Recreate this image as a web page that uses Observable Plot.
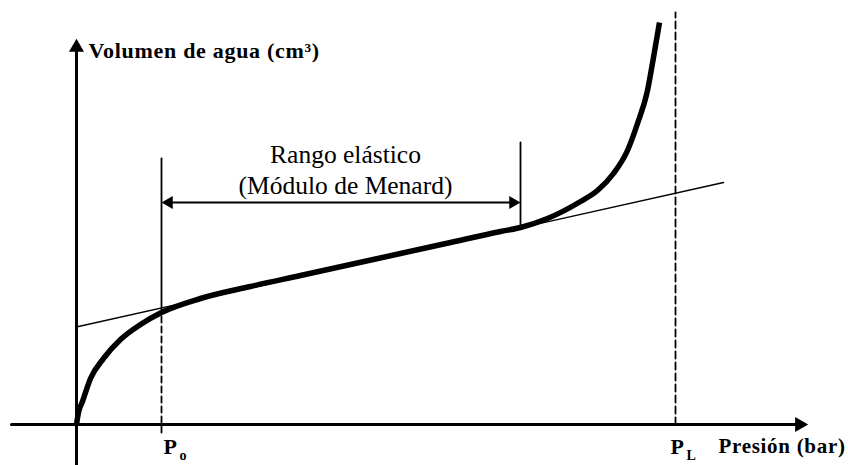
<!DOCTYPE html>
<html>
<head>
<meta charset="utf-8">
<script src="https://cdn.jsdelivr.net/npm/d3@7"></script>
<script src="https://cdn.jsdelivr.net/npm/@observablehq/plot@0.6"></script>
<style>
  html, body { margin: 0; padding: 0; background: #fff; }
  #chart svg { display: block; }
</style>
</head>
<body>
<div id="chart"></div>
<script>
// Schematic pressuremeter curve (arbitrary units: pressure, water volume)
const curvePressure = [0, 2, 6, 14, 27, 44, 64, 85, 124, 174, 224, 274, 324, 374, 424, 444, 471, 504, 521, 537, 551, 561, 571, 577, 583];
const curveVolume   = [0, 12, 23, 46, 66, 85, 100, 112, 126, 138, 149, 160, 171, 182, 193, 197, 206, 223, 234, 251, 274, 301, 334, 367, 402];

const tangentPressure = [2, 647];
const tangentVolume   = [98, 242];

const p0 = 85;          // P0
const pEnd = 444;       // end of elastic range
const pL = 599;         // PL
const p0CurveV = 112;   // volume where P0 meets curve
const p0TopV = 266;
const pEndTopV = 282;
const pEndBottomV = 197;
const pLTopV = 412;
const rangeArrowV = 222;
const axisXMin = -65, axisXMax = 732;
const axisYMin = -41, axisYMax = 386;

const yAxisLabel = "Volumen de agua (cm³)";
const xAxisLabel = "Presión (bar)";
const rangeLabels = ["Rango elástico", "(Módulo de Menard)"];
const rangeLabelV = [262, 231];
const pLabels = [{p: 87, main: "P", sub: "o"}, {p: 594, main: "P", sub: "L"}];

const curve = curvePressure.map((p, i) => ({p, v: curveVolume[i]}));
const tangent = tangentPressure.map((p, i) => ({p, v: tangentVolume[i]}));

const serif = "Liberation Serif";

const chart = Plot.plot({
  width: 848,
  height: 465,
  margin: 0,
  x: {domain: [-76, 772], range: [0, 848], axis: null},
  y: {domain: [-41, 424], range: [465, 0], axis: null},
  style: {fontFamily: serif, background: "#fff"},
  marks: [
    // axes
    Plot.line([{p: axisXMin, v: 0}, {p: axisXMax - 10, v: 0}], {x: "p", y: "v", stroke: "black", strokeWidth: 3}),
    Plot.line([{p: 0, v: axisYMin}, {p: 0, v: axisYMax - 10}], {x: "p", y: "v", stroke: "black", strokeWidth: 3}),
    Plot.dot([{p: axisXMax, v: 0}], {x: "p", y: "v", symbol: "triangle", rotate: 90, r: 5.6, dx: -9, fill: "black", stroke: "none"}),
    Plot.dot([{p: 0, v: axisYMax}], {x: "p", y: "v", symbol: "triangle", rotate: 0, r: 5.6, dy: 9, fill: "black", stroke: "none"}),
    // tangent line
    Plot.line(tangent, {x: "p", y: "v", stroke: "black", strokeWidth: 1.4}),
    // P0 vertical (solid above curve, dashed below)
    Plot.line([{p: p0, v: p0CurveV}, {p: p0, v: p0TopV}], {x: "p", y: "v", stroke: "black", strokeWidth: 1.8}),
    Plot.line([{p: p0, v: -8}, {p: p0, v: p0CurveV}], {x: "p", y: "v", stroke: "black", strokeWidth: 1.8, strokeDasharray: "6,4"}),
    // end of elastic range marker
    Plot.line([{p: pEnd, v: pEndBottomV}, {p: pEnd, v: pEndTopV}], {x: "p", y: "v", stroke: "black", strokeWidth: 1.8}),
    // PL dashed
    Plot.line([{p: pL, v: 0}, {p: pL, v: pLTopV}], {x: "p", y: "v", stroke: "black", strokeWidth: 1.8, strokeDasharray: "7,4"}),
    // double arrow
    Plot.line([{p: p0 + 6, v: rangeArrowV}, {p: pEnd - 6, v: rangeArrowV}], {x: "p", y: "v", stroke: "black", strokeWidth: 2}),
    Plot.dot([{p: p0, v: rangeArrowV}], {x: "p", y: "v", symbol: "triangle", rotate: -90, r: 4.8, dx: 7.5, fill: "black", stroke: "none"}),
    Plot.dot([{p: pEnd, v: rangeArrowV}], {x: "p", y: "v", symbol: "triangle", rotate: 90, r: 4.8, dx: -7.5, fill: "black", stroke: "none"}),
    // main curve
    Plot.line(curve, {x: "p", y: "v", stroke: "black", strokeWidth: 5.5, curve: "monotone-x", strokeLinecap: "butt"}),
    // texts
    Plot.text([yAxisLabel], {x: () => 12, y: () => 367, text: d => d, textAnchor: "start", lineAnchor: "bottom", fontFamily: serif, fontSize: 22, fontWeight: "bold", fill: "black"}),
    Plot.text([xAxisLabel], {x: () => 642, y: () => -28, text: d => d, textAnchor: "start", lineAnchor: "bottom", fontFamily: serif, fontSize: 21, fontWeight: "bold", fill: "black"}),
    Plot.text(rangeLabels, {x: () => 269, y: (d, i) => rangeLabelV[i], text: d => d, textAnchor: "middle", lineAnchor: "bottom", fontFamily: serif, fontSize: 25.5, fill: "black"}),
    Plot.text(pLabels, {x: "p", y: () => -29, text: "main", textAnchor: "start", lineAnchor: "bottom", fontFamily: serif, fontSize: 22, fontWeight: "bold", fill: "black"}),
    Plot.text(pLabels, {x: "p", y: () => -29, text: "sub", textAnchor: "start", lineAnchor: "bottom", fontFamily: serif, fontSize: 14, fontWeight: "bold", dx: 16, dy: 6, fill: "black"})
  ]
});
// the reference's lettering is a little wider than Liberation Serif
d3.select(chart).selectAll("text").filter(function() { return this.textContent === yAxisLabel || this.textContent === xAxisLabel; })
  .style("letter-spacing", "0.7px");
document.getElementById("chart").appendChild(chart);
</script>
</body>
</html>
